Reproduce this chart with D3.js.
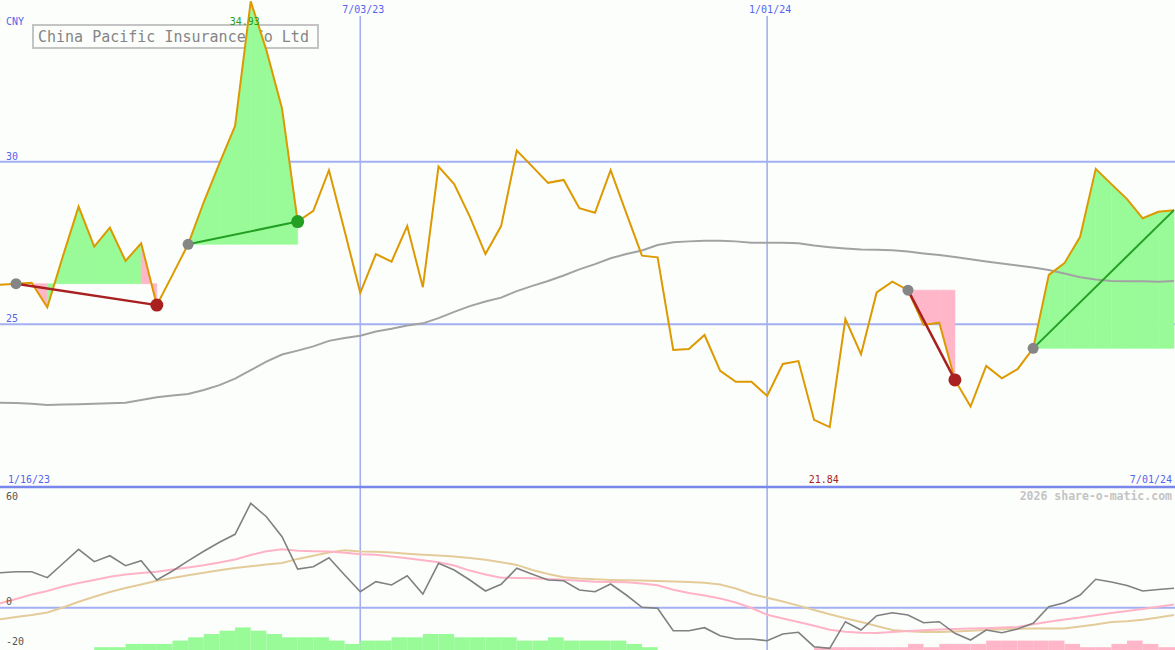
<!DOCTYPE html>
<html>
<head>
<meta charset="utf-8">
<script src="https://cdn.jsdelivr.net/npm/d3@7"></script>
<style>
  html, body { margin: 0; padding: 0; background: #fcfefc; }
  svg { display: block; }
  text { font-family: "DejaVu Sans Mono", "Liberation Mono", monospace; }
</style>
</head>
<body>
<svg id="chart" width="1175" height="650"></svg>
<script>
// ---------- DATA ----------
const title = "China Pacific Insurance Co Ltd";
const currency = "CNY";
const firstWeek = "2023-01-16";
const lastWeek = "2024-07-01";
const gridDates = ["2023-07-03", "2024-01-01"];
const gridDateLabels = ["7/03/23", "1/01/24"];
const edgeDateLabels = ["1/16/23", "7/01/24"];
const priceTicks = [30, 25];
const lowerTicks = [60, 0, -20];
const lowerGridValues = [0];
const watermark = "2026 share-o-matic.com";

// weekly closing price (CNY)
const price = [26.21, 26.22, 26.25, 26.28, 25.52, 27.10, 28.62, 27.39, 27.97, 26.95,
  27.49, 25.59, 26.52, 27.46, 28.76, 29.95, 31.10, 34.93, 33.43, 31.64,
  28.16, 28.49, 29.74, 27.87, 25.97, 27.16, 26.93, 28.02, 26.14, 29.85,
  29.31, 28.31, 27.16, 28.02, 30.34, 29.85, 29.35, 29.44, 28.57, 28.43,
  29.74, 28.42, 27.11, 27.06, 24.21, 24.24, 24.67, 23.57, 23.23, 23.23,
  22.80, 23.78, 23.87, 22.06, 21.84, 25.16, 24.08, 25.98, 26.31, 26.05,
  24.98, 25.05, 23.29, 22.47, 23.72, 23.34, 23.62, 24.26, 26.52, 26.88,
  27.69, 29.78, 29.31, 28.85, 28.26, 28.46, 28.51];

// long moving average (grey)
const movingAvg = [22.60, 22.59, 22.58, 22.56, 22.52, 22.53, 22.54, 22.56, 22.57, 22.59,
  22.67, 22.76, 22.81, 22.86, 22.98, 23.13, 23.33, 23.59, 23.85, 24.07,
  24.19, 24.32, 24.49, 24.58, 24.65, 24.78, 24.86, 24.96, 25.03, 25.19,
  25.38, 25.56, 25.70, 25.82, 26.02, 26.18, 26.33, 26.50, 26.69, 26.85,
  27.03, 27.16, 27.27, 27.44, 27.52, 27.55, 27.57, 27.57, 27.55, 27.51,
  27.51, 27.51, 27.49, 27.42, 27.37, 27.33, 27.30, 27.29, 27.28, 27.24,
  27.18, 27.13, 27.07, 27.00, 26.93, 26.87, 26.81, 26.75, 26.67, 26.56,
  26.45, 26.38, 26.33, 26.32, 26.32, 26.31, 26.33];

// lower panel: momentum (dark grey)
const momentum = [17.41, 17.41, 17.91, 17.91, 14.93, 21.99, 29.05, 22.89, 25.87, 20.90,
  23.38, 13.78, 18.26, 23.28, 28.06, 32.54, 36.52, 51.94, 45.27, 35.32,
  19.25, 20.40, 24.88, 16.27, 7.96, 12.94, 11.29, 15.92, 6.82, 22.09,
  18.76, 13.78, 8.31, 11.64, 19.60, 16.62, 13.78, 13.43, 8.81, 7.96,
  11.79, 6.32, 0.20, -0.30, -11.44, -11.44, -9.95, -13.93, -15.57, -15.57,
  -16.42, -13.08, -12.24, -19.40, -20.20, -6.97, -11.09, -3.98, -2.49, -3.63,
  -7.46, -6.97, -12.74, -16.07, -11.09, -12.44, -10.60, -7.76, 0.50, 2.49,
  6.32, 14.13, 12.79, 11.04, 8.31, 9.05, 9.65];

// lower panel: fast average (pink)
const fastAvg = [0.10, 2.19, 4.33, 6.57, 8.31, 10.55, 12.29, 13.78, 15.42, 16.52,
  17.26, 17.91, 18.96, 20.00, 21.09, 22.49, 23.98, 26.22, 28.06, 29.05,
  28.31, 28.06, 27.91, 27.31, 26.62, 26.32, 25.47, 24.58, 23.63, 22.59,
  21.00, 18.46, 16.52, 14.93, 14.78, 14.63, 14.28, 13.88, 13.38, 12.89,
  12.79, 12.69, 12.04, 11.19, 8.96, 7.31, 6.12, 4.58, 2.59, -0.15,
  -3.48, -5.37, -7.11, -8.96, -10.95, -11.99, -12.49, -12.54, -12.09, -11.59,
  -11.19, -10.80, -10.60, -10.40, -10.20, -9.90, -9.55, -8.21, -6.97, -5.92,
  -4.93, -3.73, -2.59, -1.64, -0.65, 0.45, 1.59];

// lower panel: slow average (tan)
const slowAvg = [-7.86, -5.72, -4.63, -3.63, -2.39, 0.10, 2.99, 5.42, 7.81, 9.80,
  11.54, 13.43, 14.78, 16.17, 17.41, 18.61, 19.70, 20.60, 21.44, 22.29,
  24.28, 25.87, 27.46, 28.56, 27.91, 27.86, 27.41, 26.82, 26.37, 26.02,
  25.52, 24.73, 23.83, 22.64, 21.29, 18.76, 16.77, 15.12, 14.53, 14.18,
  13.83, 13.63, 13.48, 13.28, 13.08, 12.79, 12.39, 11.49, 9.55, 6.82,
  4.93, 3.08, 1.04, -1.14, -3.28, -5.27, -7.16, -9.10, -11.09, -11.74,
  -12.09, -12.09, -11.79, -11.49, -11.14, -10.75, -10.50, -10.40, -10.35, -10.30,
  -9.30, -8.36, -7.11, -6.72, -6.02, -4.88, -3.68];

// lower panel: histogram (green positive / pink negative)
const histogram = [0, 0, 0, 0, 0, 0, 0, 1, 1, 2,
  2, 2, 3, 4, 5, 6, 7, 6, 5, 4,
  4, 4, 3, 2, 3, 3, 4, 4, 5, 5,
  4, 4, 4, 4, 3, 3, 4, 3, 3, 3,
  3, 2, 1, 0, 0, 0, 0, 0, 0, 0,
  0, 0, 0, -1, -1, -1, -1, -1, -1, -2,
  -1, -2, -2, -2, -3, -3, -3, -3, -3, -2,
  -1, -1, -2, -3, -2, -1, -1];

// highlighted moves: start week index, end week index, direction
const moveStarts = [2, 13, 59, 67];
const moveEnds = [11, 20, 62, 76];
const moveUp = [false, true, false, true];
const moveEndDot = [true, true, true, false];

// ---------- CHART ----------
const W = 1175, H = 650;
const svg = d3.select("#chart");
const parse = d3.utcParse("%Y-%m-%d");
const dates = d3.utcMonday.range(parse(firstWeek), d3.utcDay.offset(parse(lastWeek), 1));

const x = d3.scaleUtc().domain([parse(firstWeek), parse(lastWeek)]).range([-15.3, 1174]);
const yP = d3.scaleLinear().domain([25, 30]).range([324.3, 161.7]);
const yL = d3.scaleLinear().domain([-20, 60]).range([647.9, 487.1]);
const yH = d3.scaleLinear().domain([0, 8]).range([650.5, 624.1]);

const C = {
  bg: "#fcfefc", grid: "#a3b0f2", axis: "#7787ea", label: "#5565ee",
  price: "#dd9900", ma: "#a2a2a2", green: "#98fb98", pink: "#ffb6c8",
  red: "#a82020", dkgreen: "#239f23", grey: "#858585",
  mom: "#808080", fast: "#ffb3c6", slow: "#e4cc9a"
};

svg.append("rect").attr("width", W).attr("height", H).attr("fill", C.bg);

const defs = svg.append("defs");
defs.append("clipPath").attr("id", "clipTop").append("rect")
  .attr("x", 0).attr("y", 0).attr("width", W).attr("height", 486);
defs.append("clipPath").attr("id", "clipLow").append("rect")
  .attr("x", 0).attr("y", 488).attr("width", W).attr("height", H - 488);

// grid lines - price panel
svg.append("g").selectAll("line").data(priceTicks).join("line")
  .attr("x1", 0).attr("x2", W)
  .attr("y1", d => yP(d)).attr("y2", d => yP(d))
  .attr("stroke", C.grid).attr("stroke-width", 2);

// vertical date grid
svg.append("g").selectAll("line").data(gridDates).join("line")
  .attr("x1", d => x(parse(d))).attr("x2", d => x(parse(d)))
  .attr("y1", 16).attr("y2", H)
  .attr("stroke", C.grid).attr("stroke-width", 1.6);

// lower zero line
svg.append("g").selectAll("line").data(lowerGridValues).join("line")
  .attr("x1", 0).attr("x2", W)
  .attr("y1", d => yL(d)).attr("y2", d => yL(d))
  .attr("stroke", C.grid).attr("stroke-width", 2);

// title box
const tb = svg.append("g");
tb.append("rect").attr("x", 33).attr("y", 25).attr("width", 285).attr("height", 23)
  .attr("fill", C.bg).attr("stroke", "#c4c4c4").attr("stroke-width", 2);
tb.append("text").attr("x", 38).attr("y", 41.5).attr("font-size", 15)
  .attr("fill", "#858585").text(title);

// fills between price and start level, per segment
const topG = svg.append("g").attr("clip-path", "url(#clipTop)");
const fillG = topG.append("g");
moveStarts.forEach((s, m) => {
  const ref = price[s];
  for (let k = s; k < moveEnds[m]; k++) {
    const seg = [k, k + 1];
    const up = price[k + 1] >= ref;
    const area = d3.area()
      .x(i => x(dates[i]))
      .y0(yP(ref))
      .y1(i => yP(price[i]));
    fillG.append("path").attr("d", area(seg))
      .attr("fill", up ? C.green : C.pink).attr("stroke", up ? C.green : C.pink)
      .attr("stroke-width", 0.6);
  }
});

// moving average
const lineP = arr => d3.line().x((d, i) => x(dates[i])).y(d => yP(d))(arr);
topG.append("path").attr("d", lineP(movingAvg))
  .attr("fill", "none").attr("stroke", C.ma).attr("stroke-width", 2);

// price line
topG.append("path").attr("d", lineP(price))
  .attr("fill", "none").attr("stroke", C.price).attr("stroke-width", 2)
  .attr("stroke-linejoin", "miter");

// trend lines and dots
moveStarts.forEach((s, m) => {
  const e = moveEnds[m];
  topG.append("line")
    .attr("x1", x(dates[s])).attr("y1", yP(price[s]))
    .attr("x2", x(dates[e])).attr("y2", yP(price[e]))
    .attr("stroke", moveUp[m] ? C.dkgreen : C.red)
    .attr("stroke-width", moveUp[m] ? 2 : 2.5);
});
moveStarts.forEach((s, m) => {
  topG.append("circle").attr("cx", x(dates[s])).attr("cy", yP(price[s]))
    .attr("r", 5.5).attr("fill", C.grey);
  if (moveEndDot[m]) {
    const e = moveEnds[m];
    topG.append("circle").attr("cx", x(dates[e])).attr("cy", yP(price[e]))
      .attr("r", 6.5).attr("fill", moveUp[m] ? C.dkgreen : C.red);
  }
});

// labels - price panel
svg.append("text").attr("x", 6).attr("y", 24.5).attr("font-size", 10)
  .attr("fill", C.label).text(currency);
svg.append("g").selectAll("text").data(priceTicks).join("text")
  .attr("x", 6).attr("y", d => yP(d) - 2).attr("font-size", 10)
  .attr("fill", C.label).text(d => d);
svg.append("g").selectAll("text").data(gridDates).join("text")
  .attr("x", d => x(parse(d)) + 3).attr("y", 13).attr("font-size", 10)
  .attr("text-anchor", "middle").attr("fill", C.label)
  .text((d, i) => gridDateLabels[i]);
svg.append("text").attr("x", 8).attr("y", 483).attr("font-size", 10)
  .attr("fill", C.label).text(edgeDateLabels[0]);
svg.append("text").attr("x", 1172).attr("y", 483).attr("font-size", 10)
  .attr("text-anchor", "end").attr("fill", C.label).text(edgeDateLabels[1]);

// max / min labels
const iMax = d3.maxIndex(price), iMin = d3.minIndex(price);
svg.append("text").attr("x", x(dates[iMax]) - 6).attr("y", 25).attr("font-size", 10)
  .attr("text-anchor", "middle").attr("fill", C.dkgreen).text(price[iMax].toFixed(2));
svg.append("text").attr("x", x(dates[iMin]) - 6).attr("y", 483).attr("font-size", 10)
  .attr("text-anchor", "middle").attr("fill", C.red).text(price[iMin].toFixed(2));

// separator axis
svg.append("line").attr("x1", 0).attr("x2", W).attr("y1", 487).attr("y2", 487)
  .attr("stroke", C.axis).attr("stroke-width", 2.5);

// ---------- lower panel ----------
const low = svg.append("g").attr("clip-path", "url(#clipLow)");
low.append("g").selectAll("rect").data(histogram.map((v, i) => ({ v, i })).filter(d => d.v !== 0))
  .join("rect")
  .attr("x", d => x(dates[d.i]))
  .attr("width", d => x(d3.utcMonday.offset(dates[d.i], 1)) - x(dates[d.i]))
  .attr("y", d => yH(Math.abs(d.v)))
  .attr("height", d => yH(0) - yH(Math.abs(d.v)))
  .attr("fill", d => d.v > 0 ? C.green : C.pink);

const lineL = arr => d3.line().x((d, i) => x(dates[i])).y(d => yL(d))(arr);
low.append("path").attr("d", lineL(slowAvg)).attr("fill", "none")
  .attr("stroke", C.slow).attr("stroke-width", 2);
low.append("path").attr("d", lineL(fastAvg)).attr("fill", "none")
  .attr("stroke", C.fast).attr("stroke-width", 2);
low.append("path").attr("d", lineL(momentum)).attr("fill", "none")
  .attr("stroke", C.mom).attr("stroke-width", 1.6);

svg.append("g").selectAll("text").data(lowerTicks).join("text")
  .attr("x", 6)
  .attr("y", d => d === 60 ? 499.5 : yL(d) - 2.5)
  .attr("font-size", 10).attr("fill", "#555")
  .text(d => d);

svg.append("text").attr("x", 1172).attr("y", 500).attr("font-size", 11.5)
  .attr("font-weight", "bold").attr("text-anchor", "end").attr("fill", "#c4c4c4")
  .text(watermark);
</script>
</body>
</html>
